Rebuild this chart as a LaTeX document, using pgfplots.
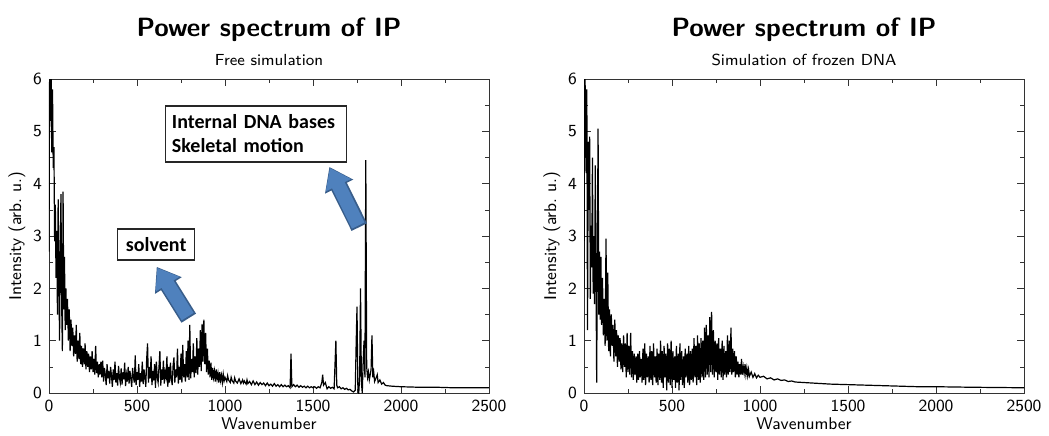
\documentclass[border=0pt]{standalone}
\usepackage{fontspec}
\usepackage{pgfplots}
\pgfplotsset{compat=1.18}
\usetikzlibrary{arrows.meta}
\newfontfamily\carlito{Carlito}
\definecolor{arrowfill}{HTML}{4F81BD}
\definecolor{arrowedge}{HTML}{385D8A}
\pgfplotsset{
  spec/.style={
    scale only axis, width=220pt, height=157pt,
    xmin=0, xmax=2500, ymin=0, ymax=6,
    clip mode=individual,
    xtick={0,500,...,2500}, ytick={0,1,...,6},
    minor x tick num=1, minor y tick num=1,
    tick align=inside,
    major tick length=3.5pt, minor tick length=2pt,
    /pgf/number format/1000 sep={},
    /pgf/number format/assume math mode=true,
    ticklabel style={font=\sffamily\fontsize{8.5}{10}\selectfont},
    label style={font=\sffamily\fontsize{8.5}{10}\selectfont},
    xlabel={Wavenumber}, ylabel={Intensity (arb.\ u.)},
    xlabel style={yshift=4pt}, ylabel style={yshift=-3pt},
    axis line style={black!80}, tick style={black!80},
  }
}
\begin{document}
\begin{tikzpicture}
\begin{axis}[spec]
\addplot[black, line width=0.6pt] coordinates {
(0,2.7)(4,6.5)(8,5.2)(12,6.2)(16,4.6)(20,5.8)(24,4.3)(28,4.7)(32,2.9)(36,3.6)
(40,2.2)(44,3.1)(48,1.5)(52,3.7)(56,2.3)(60,1.0)(64,2.8)(68,3.8)(72,1.7)(76,0.8)
(80,3.85)(84,1.6)(88,2.6)(92,1.2)(96,2.0)(100,1.3)
(105,1.8)(110,1.0)(115,1.6)(120,0.8)(125,1.4)(130,0.9)(135,1.25)(140,0.7)(145,1.1)(150,0.75)
(155,1.3)(160,0.6)(165,1.0)(170,0.65)(175,1.15)(180,0.55)(185,0.9)(190,0.5)(195,0.85)(200,0.55)
(205,0.95)(210,0.45)(215,0.8)(220,0.5)(225,0.75)(230,0.4)(235,0.7)(240,0.45)(245,0.8)(250,0.4)
(255,0.65)(260,0.35)(265,0.9)(270,0.38)(275,0.6)(280,0.3)(285,0.55)(290,0.35)(295,0.6)
(300,0.3)(305,0.62)(310,0.22)(315,0.48)(320,0.35)(325,0.15)(330,0.55)(335,0.28)(340,0.42)(345,0.18)
(350,0.5)(355,0.33)(360,0.12)(365,0.45)(370,0.25)(375,0.6)(380,0.2)(385,0.38)(390,0.14)(395,0.52)
(400,0.3)(405,0.2)(410,0.47)(415,0.16)(420,0.4)(425,0.26)(430,0.58)(435,0.13)(440,0.35)(445,0.22)
(450,0.5)(455,0.18)(460,0.42)(465,0.27)(470,0.12)(475,0.48)(480,0.3)(485,0.2)(490,0.72)(495,0.15)
(500,0.4)(505,0.25)(510,0.55)(515,0.12)(520,0.38)(525,0.22)(530,0.6)(535,0.17)(540,0.45)(545,0.3)
(550,0.12)(555,0.65)(560,0.95)(565,0.2)(570,0.5)(575,0.28)(580,0.7)(585,0.15)(590,0.42)(595,0.24)
(600,0.55)(605,0.1)(610,0.6)(615,0.3)(620,0.2)(625,0.5)(630,0.8)(635,0.14)(640,0.45)(645,0.25)
(650,0.62)(655,0.18)(660,0.4)(665,0.3)(670,0.7)(675,0.12)(680,0.5)(685,0.2)(690,0.58)(695,0.28)
(700,0.15)(705,0.52)(710,0.68)(715,0.2)(720,0.45)(725,0.3)(730,0.85)(735,0.18)(740,0.5)(745,0.25)
(750,0.75)(755,0.2)(760,0.92)(765,0.3)(770,0.55)(775,0.22)(780,0.8)(785,0.3)(790,1.0)(795,0.25)
(800,1.3)(805,0.28)(810,0.65)(815,0.4)(820,0.95)(825,0.3)(830,0.7)(835,0.38)(840,1.05)(845,0.35)
(850,0.85)(855,0.5)(860,1.2)(865,0.42)(870,1.32)(875,0.6)(880,1.4)(885,0.55)(890,1.15)(895,0.4)
(900,0.85)(905,0.35)(910,0.62)(915,0.3)(920,0.58)(925,0.25)(930,0.48)(935,0.3)(940,0.42)(945,0.22)
(950,0.45)(955,0.27)(960,0.38)(965,0.2)(970,0.4)(975,0.24)(980,0.34)(985,0.2)(990,0.36)(995,0.23)
(1000,0.3)(1010,0.22)(1015,0.33)(1020,0.25)(1030,0.2)(1035,0.3)(1040,0.24)(1050,0.19)(1055,0.29)(1060,0.23)
(1070,0.19)(1080,0.27)(1090,0.18)(1100,0.25)(1105,0.19)(1110,0.23)(1120,0.17)(1125,0.25)(1130,0.18)(1140,0.22)
(1150,0.16)(1160,0.23)(1170,0.16)(1180,0.21)(1190,0.15)(1200,0.2)(1210,0.16)(1220,0.19)(1230,0.14)(1240,0.19)
(1250,0.14)(1260,0.17)(1270,0.13)(1280,0.18)(1290,0.13)(1300,0.16)(1310,0.12)(1320,0.16)(1330,0.12)(1340,0.15)
(1350,0.12)(1360,0.14)(1370,0.1)(1375,0.75)(1380,0.12)(1390,0.16)(1400,0.12)(1410,0.15)(1420,0.11)(1430,0.14)
(1440,0.11)(1450,0.13)(1460,0.1)(1470,0.13)(1480,0.1)(1490,0.12)(1500,0.1)(1510,0.12)(1520,0.09)(1530,0.12)
(1540,0.1)(1550,0.2)(1555,0.35)(1560,0.15)(1570,0.2)(1580,0.08)(1590,0.12)(1600,0.09)(1610,0.11)(1620,0.08)
(1630,1.0)(1635,0.15)(1640,0.1)(1650,0.12)(1660,0.08)(1670,0.1)(1680,0.07)(1690,0.09)(1700,0.06)(1710,0.07)
(1720,0.04)(1730,0.02)(1740,0.05)(1745,0.9)(1750,1.65)(1755,0.1)(1760,0.0)(1765,0.3)(1770,2.0)(1775,0.2)
(1780,0.0)(1785,0.6)(1790,1.0)(1795,0.3)(1800,4.45)(1805,0.5)(1810,0.3)(1815,0.4)(1820,0.25)(1830,0.45)
(1835,1.1)(1840,0.3)(1845,0.4)(1850,0.22)(1860,0.3)(1865,0.35)(1870,0.2)(1880,0.25)(1890,0.17)(1900,0.2)
(1910,0.15)(1920,0.14)(1950,0.13)(2000,0.12)(2100,0.11)(2200,0.11)(2300,0.1)(2400,0.1)(2500,0.1)
};
\node[font=\sffamily\bfseries\fontsize{13.2}{16}\selectfont] at (rel axis cs:0.5,1) [yshift=24.5pt] {Power spectrum of IP};
\node[font=\sffamily\footnotesize] at (rel axis cs:0.5,1) [yshift=9.5pt] {Free simulation};
% annotation arrows
\draw[line width=8.6pt, arrowedge, -{Triangle[length=11pt,width=15pt]}] (axis cs:794,1.43) -- (axis cs:612,2.41);
\draw[line width=7pt, arrowfill, -{Triangle[length=9.6pt,width=13.4pt]}, shorten >=0.6pt] (axis cs:788,1.46) -- (axis cs:612,2.41);
\draw[line width=8.6pt, arrowedge, -{Triangle[length=11pt,width=15pt]}] (axis cs:1763,3.17) -- (axis cs:1593,4.32);
\draw[line width=7pt, arrowfill, -{Triangle[length=9.6pt,width=13.4pt]}, shorten >=0.6pt] (axis cs:1757,3.2) -- (axis cs:1593,4.32);
\node[draw=black!85, line width=0.8pt, fill=white, font=\carlito\bfseries, minimum width=38.5pt, minimum height=15.5pt, inner sep=2pt] at (axis cs:609,2.84) {solvent};
\node[draw=black!85, line width=0.8pt, fill=white, font=\carlito\bfseries, align=left, minimum width=90.5pt, minimum height=28pt, inner sep=3pt, text width=84pt] at (axis cs:1176,4.95) {Internal DNA bases\\Skeletal motion};
\end{axis}
\begin{axis}[spec, at={(267.5pt,0pt)}]
\addplot[black, line width=0.6pt] coordinates {
(0,2.0)(4,6.5)(8,5.5)(12,4.2)(16,5.8)(20,1.2)(24,4.8)(28,3.5)(32,4.9)(36,1.8)
(40,3.2)(44,2.4)(48,4.5)(52,1.9)(56,3.0)(60,1.7)(64,4.35)(68,2.3)(72,0.2)(76,2.8)
(80,5.05)(84,1.5)(88,2.7)(92,1.4)(96,2.6)(100,1.3)
(105,2.2)(110,1.1)(115,1.8)(120,0.9)(125,2.95)(130,1.0)(135,2.3)(140,0.8)(145,1.6)(150,0.7)
(155,1.5)(160,0.9)(165,1.3)(170,0.6)(175,1.4)(180,0.7)(185,1.2)(190,0.5)(195,1.1)(200,0.6)
(205,1.05)(210,0.45)(215,0.95)(220,0.4)(225,1.1)(230,0.5)(235,0.95)(240,0.3)(245,1.15)(250,0.4)
(255,0.9)(260,0.35)(265,1.15)(270,0.3)(275,0.8)(280,0.25)(285,0.75)(290,0.35)(295,0.7)(300,0.2)
(305,0.75)(310,0.25)(315,0.8)(320,0.3)(325,0.65)(330,0.2)(335,0.85)(340,0.25)(345,0.95)(350,0.15)
(355,0.75)(360,0.3)(365,0.7)(370,0.2)(375,0.9)(380,0.25)(385,0.8)(390,0.15)(395,0.95)(400,0.3)
(405,0.7)(410,0.2)(415,0.85)(420,0.15)(425,0.75)(430,0.25)(435,1.0)(440,0.2)(445,0.8)(450,0.1)
(455,0.9)(460,0.3)(465,0.75)(470,0.05)(475,0.95)(480,0.2)(485,0.85)(490,0.15)(495,1.0)(500,0.1)
(505,0.8)(510,0.25)(515,0.7)(520,0.1)(525,0.9)(530,0.2)(535,0.75)(540,0.05)(545,0.95)(550,0.25)
(555,0.8)(560,0.15)(565,0.7)(570,0.1)(575,0.85)(580,0.3)(585,0.75)(590,0.2)(595,0.9)(600,0.15)
(605,0.8)(610,0.25)(615,0.85)(620,0.2)(625,1.05)(630,0.3)(635,0.9)(640,0.15)(645,1.1)(650,0.25)
(655,0.95)(660,0.2)(665,1.05)(670,0.3)(675,1.0)(680,0.25)(685,1.25)(690,0.3)(695,1.3)(700,0.35)
(705,1.1)(710,0.3)(715,1.45)(720,0.4)(725,1.55)(730,0.35)(735,1.2)(740,0.3)(745,1.0)(750,0.4)
(755,0.95)(760,0.25)(765,1.05)(770,0.35)(775,0.85)(780,0.3)(785,1.0)(790,0.25)(795,0.9)(800,0.35)
(805,0.8)(810,0.3)(815,1.1)(820,0.35)(825,1.0)(830,0.4)(835,1.25)(840,0.35)(845,0.85)(850,0.4)
(855,0.8)(860,0.3)(865,0.7)(870,0.35)(875,0.6)(880,0.3)(885,0.55)(890,0.35)(895,0.65)(900,0.35)
(905,0.5)(910,0.38)(915,0.55)(920,0.35)(925,0.48)(930,0.33)(935,0.45)(940,0.32)(950,0.4)(960,0.3)
(970,0.37)(980,0.29)(990,0.34)(1000,0.3)(1020,0.32)(1040,0.27)(1060,0.29)(1080,0.25)(1100,0.27)(1120,0.24)
(1140,0.25)(1160,0.22)(1180,0.23)(1200,0.21)(1250,0.2)(1300,0.19)(1400,0.17)(1500,0.16)(1600,0.15)(1700,0.14)
(1800,0.13)(1900,0.12)(2000,0.12)(2200,0.11)(2500,0.1)
};
\node[font=\sffamily\bfseries\fontsize{13.2}{16}\selectfont] at (rel axis cs:0.5,1) [yshift=24.5pt] {Power spectrum of IP};
\node[font=\sffamily\footnotesize] at (rel axis cs:0.5,1) [yshift=9.5pt] {Simulation of frozen DNA};
\end{axis}
\pgfresetboundingbox
\useasboundingbox (-24.5pt,-21pt) rectangle (500pt,196.5pt);
\end{tikzpicture}
\end{document}
